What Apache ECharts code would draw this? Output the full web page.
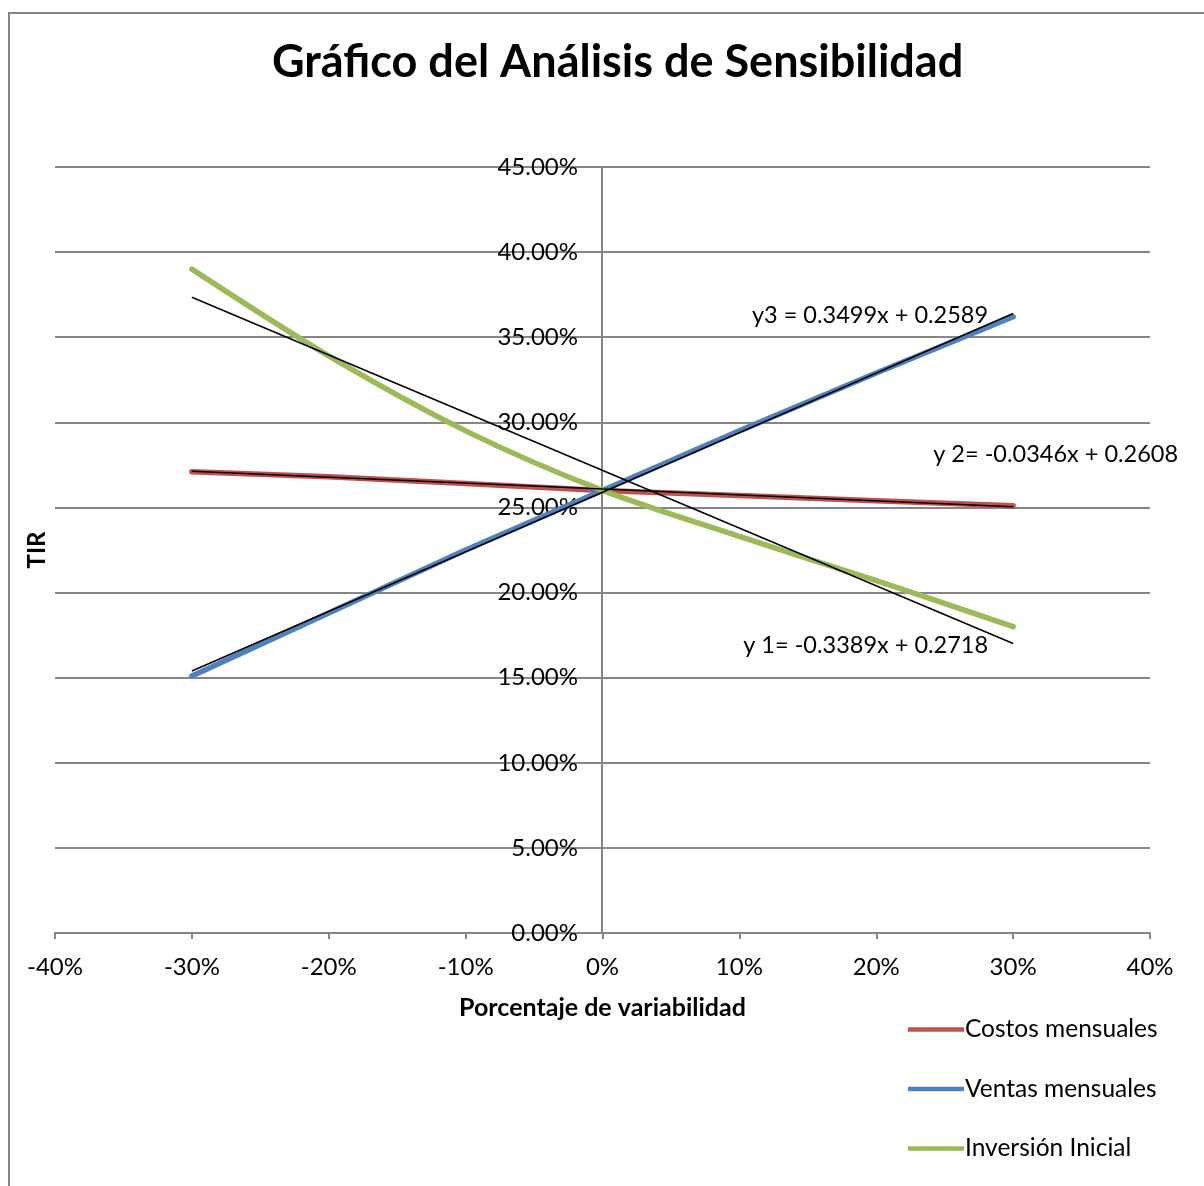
<!DOCTYPE html>
<html>
<head>
<meta charset="utf-8">
<script src="https://cdn.jsdelivr.net/npm/echarts@6/dist/echarts.min.js"></script>
<style>html,body{margin:0;padding:0;background:#fff}#c{width:1204px;height:1186px}</style>
</head>
<body>
<div id="c"></div>
<script>
const xValues = [-0.3, -0.2, -0.1, 0, 0.1, 0.2, 0.3];
const costos = [0.271, 0.268, 0.264, 0.260, 0.257, 0.254, 0.251];
const ventas = [0.151, 0.188, 0.225, 0.260, 0.295, 0.329, 0.362];
const inversion = [0.390, 0.339, 0.295, 0.260, 0.233, 0.207, 0.180];
const trendX = [-0.3, 0.3];
const trend1 = [0.3735, 0.1701];
const trend2 = [0.2712, 0.2504];
const trend3 = [0.1539, 0.3639];
const trendLabels = ['y 1= -0.3389x + 0.2718', 'y 2= -0.0346x + 0.2608', 'y3 = 0.3499x + 0.2589'];
const seriesNames = ['Costos mensuales', 'Ventas mensuales', 'Inversión Inicial'];
const colors = ['#C0504D', '#4F81BD', '#9BBB59'];

const FONT = 'Lato';
const pair = (xs, ys) => xs.map((x, i) => [x, ys[i]]);

const chart = echarts.init(document.getElementById('c'));
const mainSeries = [costos, ventas, inversion].map((d, i) => ({
  name: seriesNames[i], type: 'line', data: pair(xValues, d),
  showSymbol: false, smooth: i === 2 ? 0.3 : false,
  lineStyle: { color: colors[i], width: 5.5, cap: 'round' },
  itemStyle: { color: colors[i] }, z: 2
}));
const trendSeries = [trend1, trend2, trend3].map((d, i) => ({
  name: 'trend' + (i + 1), type: 'line', data: pair(trendX, d),
  showSymbol: false, lineStyle: { color: '#000', width: 1.5 }, z: 3, silent: true
}));

chart.setOption({
  animation: false,
  backgroundColor: '#fff',
  title: {
    text: 'Gráfico del Análisis de Sensibilidad', left: 267, top: 35,
    textStyle: { fontFamily: FONT, fontWeight: 'bold', fontSize: 45, color: '#000' }
  },
  grid: { left: 55, right: 54, top: 167, bottom: 253 },
  legend: {
    data: seriesNames, orient: 'vertical', left: 903, top: 1012, itemGap: 34.5,
    itemWidth: 56, itemHeight: 25, icon: 'path://M0,10 L56,10 L56,14.5 L0,14.5 Z',
    textStyle: { fontFamily: FONT, fontSize: 24.5, color: '#000', padding: [0, 0, 0, -4] }
  },
  xAxis: {
    type: 'value', min: -0.4, max: 0.4, interval: 0.1,
    name: 'Porcentaje de variabilidad', nameLocation: 'middle', nameGap: 62,
    nameTextStyle: { fontFamily: FONT, fontWeight: 'bold', fontSize: 25, color: '#000' },
    axisLine: { onZero: false, lineStyle: { color: '#868686', width: 2 } },
    axisTick: { show: true, length: 6, lineStyle: { color: '#868686', width: 2 } },
    axisLabel: { fontFamily: FONT, fontSize: 24, color: '#000', margin: 22,
      formatter: v => Math.round(v * 100) + '%' },
    splitLine: { show: false }
  },
  yAxis: [{
    type: 'value', min: 0, max: 0.45, interval: 0.05,
    name: 'TIR', nameLocation: 'middle', nameGap: 6, position: 'left',
    nameTextStyle: { fontFamily: FONT, fontWeight: 'bold', fontSize: 24, color: '#000' },
    axisLine: { show: false },
    axisTick: { show: false },
    axisLabel: { show: false },
    splitLine: { show: true, lineStyle: { color: '#868686', width: 2 } }
  }, {
    type: 'value', min: 0, max: 0.45, interval: 0.05, gridIndex: 0,
    position: 'left', offset: -547,
    axisLine: { show: true, lineStyle: { color: '#868686', width: 2 } },
    axisTick: { show: false },
    axisLabel: { fontFamily: FONT, fontSize: 24, color: '#000', margin: 24,
      formatter: v => (v * 100).toFixed(2) + '%' },
    splitLine: { show: false }
  }],
  series: [...mainSeries, ...trendSeries]
});

function placeLabels() {
  const pEnd = (arr) => chart.convertToPixel({ gridIndex: 0 }, [trendX[1], arr[1]]);
  const p1 = pEnd(trend1), p2 = pEnd(trend2), p3 = pEnd(trend3);
  const ts = { fontFamily: FONT, fontSize: 23.5, fill: '#000' };
  chart.setOption({
    graphic: [
      { type: 'rect', shape: { x: 9, y: 13, width: 1300, height: 1300 },
        style: { fill: 'none', stroke: '#868686', lineWidth: 2 }, silent: true, z: -1 },
      { type: 'text', x: p1[0] - 25, y: p1[1] + 2, style: Object.assign({ text: trendLabels[0], textAlign: 'right', textVerticalAlign: 'middle' }, ts) },
      { type: 'text', x: p2[0] + 165, y: p2[1] - 52, style: Object.assign({ text: trendLabels[1], textAlign: 'right', textVerticalAlign: 'middle' }, ts) },
      { type: 'text', x: p3[0] - 25, y: p3[1] + 2, style: Object.assign({ text: trendLabels[2], textAlign: 'right', textVerticalAlign: 'middle' }, ts) }
    ]
  });
}
placeLabels();
</script>
</body>
</html>
